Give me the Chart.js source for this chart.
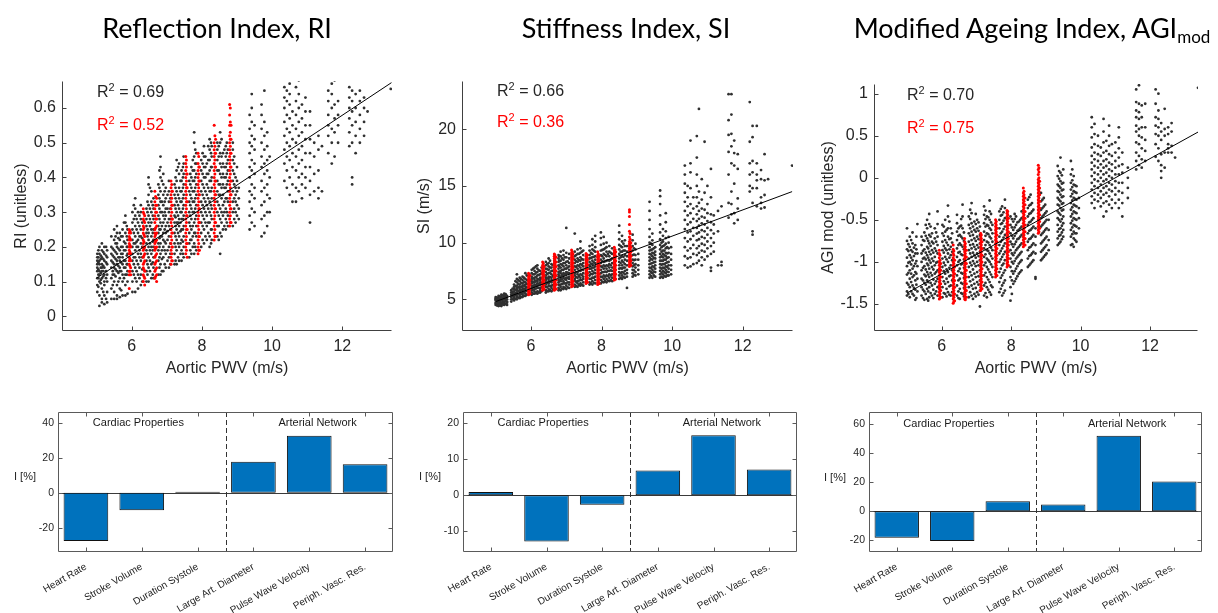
<!DOCTYPE html>
<html>
<head>
<meta charset="utf-8">
<title>Aortic PWV and pulse wave indices</title>
<script src="https://cdn.jsdelivr.net/npm/chart.js@4.4.1/dist/chart.umd.min.js"></script>
<style>
body{margin:0;background:#fff;font-family:"Liberation Sans",Arial,sans-serif;color:#262626}
#wrap{position:relative;width:1218px;height:613px;overflow:hidden}
#wrap canvas{position:absolute;left:0;top:0}
.ttl{position:absolute;top:13px;font-family:Lato,"Open Sans",sans-serif;font-size:27px;line-height:30px;color:#000;white-space:nowrap;transform:translateX(-50%)}
.ttl sub{font-size:17px;vertical-align:-5px;line-height:0}
.r2{position:absolute;font-size:16px;line-height:16px;white-space:nowrap;color:#262626}
.r2 sup{font-size:11px;vertical-align:6px;line-height:0}
.r2.red{color:#ff0000}
.ylab{position:absolute;font-size:11px;line-height:13px;color:#262626}
</style>
</head>
<body>
<div id="wrap">
<canvas id="sRI" width="1218" height="613"></canvas>
<canvas id="sSI" width="1218" height="613"></canvas>
<canvas id="sAGI" width="1218" height="613"></canvas>
<canvas id="bRI" width="1218" height="613"></canvas>
<canvas id="bSI" width="1218" height="613"></canvas>
<canvas id="bAGI" width="1218" height="613"></canvas>

<div class="ttl" style="left:217px">Reflection Index, RI</div>
<div class="ttl" style="left:626px">Stiffness Index, SI</div>
<div class="ttl" style="left:1032px">Modified Ageing Index, AGI<sub>mod</sub></div>

<div class="r2" style="left:97px;top:84px">R<sup>2</sup> = 0.69</div>
<div class="r2 red" style="left:97px;top:117px">R<sup>2</sup> = 0.52</div>
<div class="r2" style="left:497px;top:83px">R<sup>2</sup> = 0.66</div>
<div class="r2 red" style="left:497px;top:114px">R<sup>2</sup> = 0.36</div>
<div class="r2" style="left:907px;top:87px">R<sup>2</sup> = 0.70</div>
<div class="r2 red" style="left:907px;top:120px">R<sup>2</sup> = 0.75</div>

<div class="ylab" style="left:14px;top:470px">I [%]</div>
<div class="ylab" style="left:419px;top:470px">I [%]</div>
<div class="ylab" style="left:824px;top:471px">I [%]</div>
</div>

<script>
// ---- data -------------------------------------------------------------
// scatter columns: [pwv, index values measured at that pwv...]
const pwvTicks = [6, 8, 10, 12];

const riTicks = [0, 0.1, 0.2, 0.3, 0.4, 0.5, 0.6];
const riFitX = [5.0, 13.4];
const riFitY = [0.11, 0.673];
const riBlack = [
  [5.02,.07,.09,.11,.13,.14,.15,.16,.17,.18],
  [5.05,.12,.135,.155,.17,.19,.11,.085],
  [5.08,.03,.06,.1,.12,.13,.15,.16,.18,.2],
  [5.12,.14,.165,.175,.105,.125,.095],
  [5.15,.04,.05,.08,.11,.13,.14,.15,.17,.19,.21],
  [5.19,.13,.145,.165,.185,.115,.07],
  [5.22,.035,.06,.09,.1,.12,.14,.16,.18,.2],
  [5.27,.11,.13,.155,.175,.2,.05],
  [5.3,.04,.07,.1,.12,.15,.17,.19],
  [5.42,.05,.08,.11,.14,.16,.18,.2,.23],
  [5.46,.12,.155,.175,.195,.13,.09],
  [5.5,.05,.07,.1,.12,.14,.15,.17,.19,.22,.25],
  [5.54,.135,.165,.185,.21,.23,.115],
  [5.58,.05,.06,.09,.13,.15,.16,.18,.2,.21,.24,.26],
  [5.62,.125,.145,.17,.195,.225,.1],
  [5.66,.055,.08,.11,.13,.14,.16,.17,.19,.22,.24],
  [5.7,.13,.155,.18,.2,.23,.075],
  [5.74,.06,.1,.12,.15,.17,.18,.2,.23,.25],
  [5.78,.11,.14,.16,.19,.215,.27],
  [5.82,.06,.09,.12,.14,.16,.19,.21,.24,.27,.29],
  [5.86,.12,.15,.175,.2,.23,.26],
  [5.88,.065,.1,.13,.15,.18,.2,.22,.25],
  [6.02,.07,.1,.13,.16,.18,.2,.22,.25,.27,.3],
  [6.06,.12,.15,.17,.21,.24,.28,.32],
  [6.1,.07,.11,.14,.17,.19,.21,.23,.26,.29,.31,.34],
  [6.14,.1,.13,.16,.2,.215,.25,.28],
  [6.18,.08,.12,.15,.18,.2,.22,.24,.27,.3],
  [6.22,.11,.14,.17,.19,.23,.26,.29],
  [6.26,.09,.12,.16,.18,.21,.23,.25,.28,.3,.32],
  [6.3,.1,.135,.17,.2,.225,.27],
  [6.42,.1,.13,.16,.19,.21,.24,.26,.28,.31],
  [6.45,.12,.15,.18,.23,.25,.3,.33],
  [6.48,.1,.14,.17,.2,.22,.24,.27,.29,.32,.35,.38,.4],
  [6.52,.13,.16,.19,.21,.26,.28,.31,.37],
  [6.56,.11,.15,.18,.2,.23,.25,.27,.3,.33,.36],
  [6.6,.12,.155,.19,.215,.24,.29,.32],
  [6.62,.11,.14,.17,.2,.22,.25,.28,.31,.34],
  [6.76,.12,.16,.19,.21,.24,.26,.29,.32,.35,.38],
  [6.79,.14,.17,.2,.225,.25,.28,.31,.34,.37,.42],
  [6.82,.12,.15,.18,.21,.23,.25,.27,.3,.33,.36,.4,.43,.46],
  [6.86,.13,.165,.19,.23,.26,.3,.33,.39],
  [6.9,.13,.17,.2,.22,.24,.27,.29,.32,.35,.38,.41],
  [6.94,.15,.19,.215,.25,.28,.3,.33,.36],
  [6.97,.14,.18,.21,.24,.26,.29,.31,.34,.37],
  [7.02,.16,.19,.22,.245,.27,.31,.35],
  [7.06,.14,.17,.2,.23,.26,.28,.3,.33,.36,.39],
  [7.1,.15,.18,.21,.25,.28,.31,.34],
  [7.22,.15,.18,.21,.24,.27,.29,.32,.35,.38],
  [7.25,.16,.2,.23,.26,.285,.31,.34,.37,.4],
  [7.28,.15,.19,.22,.25,.27,.3,.33,.36,.39,.42,.45],
  [7.32,.17,.21,.24,.27,.29,.32,.35,.43],
  [7.35,.16,.2,.23,.26,.28,.31,.34,.37,.41,.44],
  [7.39,.18,.21,.245,.27,.3,.33,.36,.39],
  [7.42,.16,.19,.22,.25,.28,.3,.33,.36,.39,.42],
  [7.46,.18,.215,.25,.28,.31,.34,.37,.4,.43],
  [7.48,.17,.2,.23,.26,.29,.32,.35,.38,.41,.44,.46],
  [7.64,.17,.21,.24,.27,.3,.33,.36,.39],
  [7.67,.19,.22,.26,.29,.32,.35,.38,.41],
  [7.7,.18,.22,.25,.28,.31,.34,.37,.4,.43],
  [7.74,.2,.23,.26,.3,.33,.36,.39,.42,.45],
  [7.78,.18,.21,.24,.27,.3,.33,.36,.39,.42,.46,.5,.53],
  [7.81,.2,.24,.28,.31,.34,.37,.4,.44,.48],
  [7.84,.19,.23,.26,.29,.32,.35,.38,.41,.44,.47],
  [7.98,.2,.24,.27,.3,.33,.36,.39,.42,.45],
  [8.02,.22,.26,.29,.32,.35,.38,.41,.44,.47],
  [8.06,.21,.25,.28,.31,.34,.37,.4,.43,.46,.49],
  [8.1,.23,.27,.3,.33,.36,.4,.43,.46],
  [8.14,.22,.26,.29,.32,.35,.38,.41,.44],
  [8.18,.24,.27,.31,.34,.37,.41,.45,.49],
  [8.22,.2,.23,.27,.3,.33,.36,.39,.42,.45,.48,.51],
  [8.26,.21,.25,.29,.32,.36,.39,.43,.47,.5],
  [8.28,.22,.25,.28,.31,.34,.37,.4,.43,.46,.49],
  [8.44,.23,.26,.3,.33,.36,.39,.42,.45,.48,.5],
  [8.48,.22,.26,.29,.32,.35,.38,.42,.46,.49],
  [8.52,.18,.24,.28,.31,.35,.38,.41,.44,.47,.5,.53],
  [8.56,.23,.27,.3,.34,.37,.4,.43,.46,.51],
  [8.6,.25,.29,.32,.35,.38,.41,.44,.47],
  [8.64,.26,.3,.33,.37,.4,.43,.48],
  [8.68,.25,.28,.31,.34,.37,.4,.43,.46,.49],
  [8.71,.27,.3,.34,.38,.41,.44,.47,.5],
  [8.74,.26,.29,.33,.36,.39,.42,.45,.48],
  [8.88,.26,.3,.33,.36,.39,.42,.45,.48,.5],
  [8.92,.28,.31,.34,.38,.41,.44,.46],
  [8.96,.27,.3,.33,.35,.37,.4],
  [9.0,.29,.32,.36,.39,.43],
  [9.05,.28,.31,.34,.37],
  [9.36,.25,.29,.33,.36,.4,.43,.47,.5,.54,.58],
  [9.42,.27,.31,.35,.38,.42,.45,.49,.52,.56,.6,.64],
  [9.5,.26,.3,.34,.37,.41,.44,.48,.51,.55],
  [9.7,.23,.28,.32,.36,.39,.43,.46,.5,.54,.58,.61],
  [9.78,.24,.29,.33,.37,.41,.44,.48,.52,.56,.65],
  [9.86,.26,.3,.35,.38,.42,.45,.49,.53],
  [9.93,.3,.34,.4,.46],
  [10.35,.39,.44,.48,.52,.56,.6,.63,.66],
  [10.42,.37,.42,.46,.5,.54,.58,.62,.65],
  [10.5,.35,.4,.45,.49,.53,.57,.61,.64,.67],
  [10.58,.33,.38,.43,.47,.51,.55,.59],
  [10.68,.33,.37,.42,.46,.5,.54,.58,.62,.66],
  [10.76,.36,.4,.44,.48,.52,.56,.6,.64,.68],
  [10.85,.34,.38,.41,.45,.49,.53,.57,.61],
  [10.95,.37,.4,.43,.47,.51,.55,.59,.63],
  [11.08,.27,.35,.39,.43,.47,.51,.55,.59],
  [11.2,.36,.41,.46,.5],
  [11.32,.34,.37,.42,.48,.52],
  [11.42,.36,.49],
  [11.6,.47,.52,.55,.58,.62,.65],
  [11.7,.44,.5,.54,.6,.64,.67],
  [11.78,.46,.53,.57,.61,.68],
  [11.88,.5,.55,.58,.62],
  [12.2,.49,.53,.57,.6,.63,.66],
  [12.28,.38,.4,.5,.55,.59,.62,.65],
  [12.38,.47,.52,.56,.6,.64],
  [12.5,.5,.54,.58,.62,.65],
  [12.62,.52,.56,.6,.63],
  [12.72,.59],
  [13.38,.655]
];
const riRed = [
  [5.93,.08,.12,.13,.15,.16,.17,.18,.19,.2,.21,.22,.23,.24,.25],
  [5.95,.13,.145,.165,.185,.205,.225,.245],
  [5.97,.12,.14,.16,.18,.2,.22,.24],
  [6.33,.1,.12,.14,.15,.17,.19,.2,.21,.22,.24,.25,.26,.28,.3,.31],
  [6.35,.115,.135,.155,.175,.195,.215,.235,.255,.275,.295],
  [6.37,.09,.11,.13,.16,.18,.2,.23,.27,.29],
  [6.66,.11,.13,.15,.17,.19,.2,.21,.22,.23,.24,.25,.27,.29,.31,.33,.36],
  [6.68,.115,.135,.155,.175,.195,.215,.235,.255,.28,.3,.32,.345],
  [6.71,.1,.12,.14,.16,.18,.2,.22,.24,.26,.28,.3,.32,.34],
  [7.12,.15,.17,.19,.21,.23,.25,.27,.29,.31,.33,.35,.37,.39],
  [7.14,.16,.18,.2,.22,.24,.26,.28,.3,.32,.34,.36,.38],
  [7.16,.16,.2,.24,.28,.32,.36],
  [7.54,.18,.2,.22,.24,.26,.28,.3,.32,.34,.36,.38,.4,.42,.44,.46],
  [7.56,.19,.21,.23,.25,.27,.29,.31,.33,.35,.37,.39,.41,.43,.45],
  [7.58,.17,.21,.25,.29,.33,.37,.41],
  [7.89,.18,.2,.22,.24,.26,.28,.3,.32,.34,.36,.38,.4,.42,.44,.47],
  [7.91,.19,.21,.23,.25,.27,.29,.31,.33,.35,.37,.39,.41,.43,.46],
  [7.93,.19,.23,.27,.31,.35,.39,.43],
  [8.35,.22,.24,.26,.28,.3,.32,.34,.36,.38,.4,.42,.44,.46,.48,.5,.55],
  [8.37,.23,.25,.27,.29,.31,.33,.35,.37,.39,.41,.43,.45,.47,.49,.52],
  [8.39,.23,.27,.31,.35,.39,.43,.47,.51],
  [8.79,.26,.28,.3,.32,.34,.36,.38,.4,.42,.44,.46,.48,.5,.52,.55,.58,.61],
  [8.81,.27,.29,.31,.33,.35,.37,.39,.41,.43,.45,.47,.49,.51,.53,.56,.6],
  [8.83,.27,.31,.35,.39,.43,.47,.51,.55]
];

const siTicks = [5, 10, 15, 20];
const siFitX = [5.0, 13.4];
const siFitY = [4.8, 14.5];
const siBlack = [
  [5.0,4.5,4.6,4.7,4.9,5.0,5.1,5.2],
  [5.04,4.55,4.75,4.95,5.15,4.45],
  [5.08,4.4,4.5,4.6,4.8,4.9,5.0,5.1,5.3],
  [5.12,4.65,4.85,5.05,5.25,4.45],
  [5.16,4.4,4.5,4.6,4.7,4.9,5.0,5.1,5.2,5.4],
  [5.2,4.55,4.75,4.95,5.15,5.35],
  [5.24,4.5,4.6,4.7,4.8,5.0,5.1,5.3,5.5],
  [5.28,4.6,4.85,5.05,5.25,5.45],
  [5.32,4.5,4.7,4.8,5.0,5.2,5.3],
  [5.44,4.8,5.0,5.2,5.4,5.6,5.8],
  [5.48,5.0,5.25,5.45,5.65,5.95],
  [5.52,4.9,5.1,5.3,5.5,5.7,5.9,6.1,6.3],
  [5.56,5.05,5.35,5.55,5.85,6.15,6.6],
  [5.6,5.0,5.2,5.4,5.6,5.8,6.0,6.2,6.5,6.8,7.2],
  [5.64,5.15,5.45,5.75,6.05,6.35,6.7],
  [5.68,5.1,5.3,5.5,5.7,5.9,6.1,6.3,6.6,6.9],
  [5.72,5.2,5.5,5.8,6.1,6.45,6.8],
  [5.76,5.2,5.4,5.6,5.8,6.0,6.2,6.4,6.7,7.0],
  [5.8,5.3,5.6,5.9,6.2,6.55,6.9],
  [5.84,5.3,5.5,5.7,5.9,6.1,6.3,6.5,6.8,7.3],
  [5.88,5.4,5.75,6.05,6.35,6.7,7.1],
  [6.02,5.4,5.6,5.8,6.0,6.2,6.4,6.6,6.8,7.0,7.3,7.6],
  [6.06,5.5,5.85,6.15,6.5,6.85,7.2,7.7],
  [6.1,5.5,5.7,5.9,6.1,6.3,6.5,6.7,6.9,7.2,7.5,7.8],
  [6.14,5.55,5.95,6.25,6.6,6.95,7.35,7.9],
  [6.18,5.5,5.7,6.0,6.2,6.4,6.6,6.8,7.1,7.4,7.7,8.0],
  [6.22,5.6,6.0,6.35,6.75,7.15,7.55],
  [6.26,5.6,5.8,6.0,6.3,6.5,6.7,6.9,7.2,7.5],
  [6.3,5.7,6.05,6.45,6.85,7.3,7.8],
  [6.42,5.6,5.8,6.1,6.3,6.5,6.7,6.9,7.1,7.4,7.7,8.0,8.3],
  [6.46,5.7,6.05,6.45,6.85,7.25,7.65,8.1],
  [6.5,5.7,5.9,6.2,6.4,6.6,6.8,7.0,7.3,7.6,7.9,8.2,8.6],
  [6.54,5.8,6.15,6.55,6.95,7.35,7.8,8.4],
  [6.58,5.7,6.0,6.2,6.5,6.7,6.9,7.2,7.5,7.8,8.1],
  [6.62,5.85,6.25,6.65,7.05,7.5,8.0],
  [6.78,5.8,6.0,6.3,6.5,6.7,7.0,7.2,7.4,7.7,8.0,8.3,8.6,8.9],
  [6.8,5.9,6.25,6.65,7.05,7.45,7.9,8.4,8.8],
  [6.84,5.8,6.1,6.3,6.6,6.8,7.0,7.3,7.5,7.8,8.1,8.4,8.8,9.2],
  [6.88,5.95,6.35,6.75,7.15,7.6,8.05,8.6],
  [6.92,5.9,6.1,6.4,6.6,6.9,7.1,7.3,7.6,7.9,8.2,8.5,8.9,9.3],
  [6.96,6.0,6.4,6.8,7.25,7.7,8.2,8.7],
  [7.0,5.9,6.2,6.4,6.7,6.9,7.2,7.4,7.7,8.0,8.3,8.7,9.1,11.3],
  [7.04,6.05,6.5,6.9,7.35,7.8,8.35],
  [7.08,6.0,6.3,6.5,6.8,7.0,7.3,7.6,7.9,8.2,8.6,9.0],
  [7.24,6.1,6.3,6.6,6.8,7.1,7.3,7.6,7.9,8.2,8.5,8.8,9.2,10.8],
  [7.28,6.15,6.55,6.95,7.4,7.85,8.35,8.9],
  [7.32,6.1,6.4,6.6,6.9,7.2,7.4,7.7,8.0,8.3,8.6,9.0,9.4],
  [7.36,6.25,6.65,7.05,7.5,7.95,8.45,9.0],
  [7.4,6.2,6.4,6.7,6.9,7.2,7.5,7.8,8.1,8.4,8.7,9.1,9.5,10.1],
  [7.44,6.3,6.7,7.15,7.6,8.05,8.55,9.2],
  [7.48,6.2,6.5,6.8,7.0,7.3,7.6,7.9,8.2,8.5,8.9,9.3],
  [7.66,6.3,6.5,6.8,7.1,7.4,7.7,8.0,8.3,8.6,8.9,9.3,9.7],
  [7.7,6.4,6.8,7.25,7.7,8.15,8.65,9.1],
  [7.74,6.3,6.6,6.9,7.2,7.5,7.8,8.1,8.4,8.7,9.0,9.4,9.8,10.3],
  [7.78,6.45,6.9,7.35,7.8,8.25,8.75,9.3],
  [7.82,6.4,6.7,7.0,7.3,7.6,7.9,8.2,8.5,8.8,9.2,9.6,10.1,10.6],
  [7.98,6.4,6.7,7.0,7.3,7.6,7.9,8.2,8.5,8.9,9.3,9.8,10.4,10.9],
  [8.02,6.55,6.95,7.4,7.85,8.35,8.8,9.35],
  [8.06,6.5,6.8,7.1,7.4,7.7,8.0,8.3,8.6,9.0,9.4,9.9,10.5],
  [8.1,6.6,7.0,7.45,7.9,8.35,8.9,9.5],
  [8.14,6.5,6.8,7.1,7.4,7.7,8.0,8.4,8.8,9.2,9.6,10.0],
  [8.18,6.65,7.05,7.5,7.95,8.45,9.0],
  [8.22,6.6,6.9,7.2,7.5,7.8,8.1,8.4,8.8,9.2,9.7],
  [8.26,6.7,7.1,7.55,8.0,8.5,9.1],
  [8.3,6.6,6.9,7.2,7.5,7.8,8.2,8.6,9.0,9.5],
  [8.5,6.8,7.1,7.4,7.7,8.0,8.3,8.6,9.0,9.4,9.8,10.3,10.9,11.5],
  [8.54,6.9,7.3,7.75,8.2,8.7,9.2,9.7],
  [8.58,6.8,7.1,7.4,7.7,8.0,8.4,8.8,9.2,9.6,10.1,10.6],
  [8.62,6.95,7.35,7.8,8.25,8.75,9.3,9.9],
  [8.66,6.9,7.2,7.5,7.8,8.1,8.5,8.9,9.3,9.7,10.2],
  [8.72,6.0,7.0,7.3,7.6,8.0,8.4,8.8,9.2,9.7],
  [8.88,7.0,7.3,7.6,7.9,8.2,8.5,8.9,9.3,9.7,10.2,10.7],
  [8.92,7.15,7.55,8.0,8.45,8.95,9.5],
  [8.96,7.1,7.4,7.8,8.1,8.5,8.9,9.4,9.9],
  [9.04,7.2,7.6,8.0,8.5,9.0],
  [9.36,6.9,7.2,7.5,7.8,8.1,8.4,8.7,9.0,9.3,9.6,10.0,10.5,11.2,12.0,12.8,13.6],
  [9.4,7.05,7.4,7.75,8.15,8.55,8.95,9.35,9.9],
  [9.44,6.9,7.3,7.6,7.9,8.2,8.5,8.8,9.1,9.4,9.8,10.2,10.8],
  [9.48,7.1,7.45,7.85,8.25,8.65,9.05,9.5],
  [9.52,7.0,7.4,7.7,8.0,8.3,8.6,8.9,9.2,9.6],
  [9.66,6.9,7.2,7.5,7.8,8.1,8.4,8.7,9.0,9.4,9.8,10.3,10.9,11.6,12.4,13.4,14.1,14.6],
  [9.7,7.0,7.35,7.7,8.05,8.4,8.8,9.2,9.6,10.0],
  [9.74,6.9,7.2,7.5,7.8,8.1,8.4,8.7,9.0,9.3,9.7,10.1,10.6,11.2],
  [9.78,7.05,7.4,7.75,8.1,8.5,8.9,9.3,9.75],
  [9.82,7.0,7.3,7.6,7.9,8.2,8.5,8.8,9.1,9.5,9.9,10.4,11.0,11.8,12.6],
  [9.86,7.1,7.45,7.85,8.25,8.65,9.05,9.6],
  [9.9,7.1,7.4,7.7,8.0,8.3,8.7,9.1,9.5,10.0,10.5],
  [9.97,7.2,7.6,8.0,8.5,9.0,9.6],
  [10.36,8.0,8.8,9.6,10.4,11.2,12.0,12.8,13.6,14.4,15.2,16.0,16.8],
  [10.44,7.8,8.6,9.3,10.1,10.9,11.6,12.4,13.2,14.0,15.0],
  [10.52,7.9,8.7,9.5,10.3,11.0,11.8,12.6,13.4,14.8,16.2,17.0,19.0],
  [10.6,8.1,9.0,9.8,10.6,11.3,12.1,13.0,14.0],
  [10.7,8.2,8.9,9.5,10.2,10.8,11.3,11.9,12.5,13.2,14.0,15.0,16.0,17.5,19.4],
  [10.76,8.4,9.1,9.7,10.3,10.9,11.5,12.1,12.8,13.5,14.5,21.8],
  [10.84,8.0,8.7,9.3,9.9,10.5,11.1,11.7,12.3,13.0,13.8,15.6],
  [10.92,8.5,9.2,9.8,10.4,11.0,11.6,12.2,12.9,14.4,18.9],
  [11.0,8.8,9.5,10.1,10.7,11.3,11.9,12.6,13.4,15.0],
  [11.1,7.5,7.8,9.0,9.7,10.4,11.1,11.8,12.5,14.0,16.5],
  [11.18,9.2,10.0,10.8,11.6,12.4],
  [11.3,8.0,11.0,12.8],
  [11.4,8.0,8.3,13.2],
  [11.6,12.2,13.5,16.0,18.0,19.5,20.8,23.1],
  [11.68,12.5,13.4,14.5,17.0,18.5,19.6,21.3,23.1],
  [11.76,11.7,12.6,15.2,16.8,17.9,19.0],
  [11.86,12.0,13.0,13.9,16.5,17.8],
  [12.2,14.5,15.0,16.0,17.0,18.9,22.4],
  [12.28,10.7,11.0,13.5,14.8,16.2,17.2,19.3,20.3],
  [12.4,13.2,14.8,15.5,16.0,17.0,20.3],
  [12.52,13.0,13.5,14.0,15.6,16.4],
  [12.62,13.1,14.2,15.5,17.8],
  [12.72,15.6],
  [13.4,16.8]
];
const siRed = [
  [5.93,5.4,5.6,5.8,6.0,6.2,6.4,6.6,6.8,7.0,7.3],
  [5.95,5.5,5.7,5.9,6.1,6.3,6.5,6.7,6.9,7.15],
  [5.97,5.5,5.9,6.3,6.7,7.1],
  [6.33,5.8,6.0,6.2,6.4,6.6,6.8,7.0,7.2,7.4,7.6,7.8,8.0,8.3],
  [6.35,5.9,6.1,6.3,6.5,6.7,6.9,7.1,7.3,7.5,7.7,7.9,8.15],
  [6.37,5.9,6.3,6.7,7.1,7.5,7.9],
  [6.66,5.8,6.0,6.2,6.4,6.6,6.8,7.0,7.2,7.4,7.6,7.8,8.0,8.2,8.4,8.6,8.8,9.0],
  [6.68,5.9,6.1,6.3,6.5,6.7,6.9,7.1,7.3,7.5,7.7,7.9,8.1,8.3,8.5,8.7,8.9],
  [6.71,5.9,6.3,6.7,7.1,7.5,7.9,8.3,8.7],
  [7.15,6.1,6.3,6.5,6.7,6.9,7.1,7.3,7.5,7.7,7.9,8.1,8.3,8.5,8.7,8.9,9.1,9.35],
  [7.17,6.2,6.4,6.6,6.8,7.0,7.2,7.4,7.6,7.8,8.0,8.2,8.4,8.6,8.8,9.0,9.2],
  [7.19,6.2,6.6,7.0,7.4,7.8,8.2,8.6,9.0],
  [7.56,6.4,6.6,6.8,7.0,7.2,7.4,7.6,7.8,8.0,8.2,8.4,8.6,8.8,9.05],
  [7.58,6.5,6.7,6.9,7.1,7.3,7.5,7.7,7.9,8.1,8.3,8.5,8.7,8.9],
  [7.6,6.5,6.9,7.3,7.7,8.1,8.5,8.9],
  [7.89,6.3,6.5,6.7,6.9,7.1,7.3,7.5,7.7,7.9,8.1,8.3,8.5,8.7,8.9,9.2],
  [7.91,6.4,6.6,6.8,7.0,7.2,7.4,7.6,7.8,8.0,8.2,8.4,8.6,8.8,9.0],
  [7.93,6.4,6.8,7.2,7.6,8.0,8.4,8.8],
  [8.36,6.7,6.9,7.1,7.3,7.5,7.7,7.9,8.1,8.3,8.5,8.7,8.9,9.1,9.3,9.6],
  [8.38,6.8,7.0,7.2,7.4,7.6,7.8,8.0,8.2,8.4,8.6,8.8,9.0,9.2,9.4],
  [8.4,6.8,7.2,7.6,8.0,8.4,8.8,9.2],
  [8.79,7.9,8.1,8.3,8.5,8.7,8.9,9.1,9.3,9.5,9.7,9.9,10.1,10.5,11.0,11.6,12.3,12.7,12.9],
  [8.81,8.0,8.2,8.4,8.6,8.8,9.0,9.2,9.4,9.6,9.8,10.0,10.3,10.8],
  [8.83,8.0,8.4,8.8,9.2,9.6,10.0]
];

const agiTicks = [-1.5, -1, -0.5, 0, 0.5, 1];
const agiFitX = [5.0, 13.4];
const agiFitY = [-1.37, 0.548];
const agiBlack = [
  [5.0,-1.4,-1.35,-1.25,-1.15,-1.05,-0.95,-0.85,-0.75,-0.6],
  [5.04,-1.38,-1.27,-1.13,-1.01,-0.87,-0.79],
  [5.08,-1.42,-1.3,-1.2,-1.1,-1.0,-0.92,-0.82,-0.7],
  [5.12,-1.35,-1.24,-1.14,-1.03,-0.95,-0.86,-0.74],
  [5.16,-1.38,-1.28,-1.18,-1.08,-0.98,-0.88,-0.78,-0.65],
  [5.2,-1.4,-1.31,-1.16,-1.05,-0.93,-0.83],
  [5.24,-1.45,-1.33,-1.22,-1.12,-1.02,-0.9,-0.8],
  [5.27,-1.43,-1.27,-1.14,-0.99,-0.85,-0.7],
  [5.3,-1.35,-1.2,-1.05,-0.9,-0.55],
  [5.42,-1.4,-1.3,-1.2,-1.1,-1.0,-0.9,-0.8,-0.7],
  [5.46,-1.43,-1.33,-1.22,-1.07,-0.96,-0.87,-0.74],
  [5.5,-1.45,-1.35,-1.25,-1.15,-1.05,-0.95,-0.85,-0.75,-0.65],
  [5.54,-1.38,-1.27,-1.17,-1.09,-0.97,-0.89,-0.69,-0.56],
  [5.58,-1.44,-1.32,-1.22,-1.12,-1.02,-0.92,-0.82,-0.72,-0.6,-0.5],
  [5.61,-1.46,-1.35,-1.24,-1.15,-1.04,-0.95,-0.84,-0.75],
  [5.64,-1.42,-1.3,-1.18,-1.08,-0.98,-0.88,-0.78,-0.68,-0.55,-0.43],
  [5.68,-1.37,-1.25,-1.13,-1.01,-0.91,-0.81,-0.7,-0.58],
  [5.72,-1.4,-1.28,-1.16,-1.06,-0.96,-0.86,-0.76,-0.66],
  [5.76,-1.43,-1.33,-1.21,-1.09,-0.99,-0.89,-0.78],
  [5.8,-1.38,-1.26,-1.14,-1.04,-0.94,-0.84,-0.72,-0.6],
  [5.84,-1.35,-1.23,-1.12,-1.01,-0.87,-0.76,-0.65],
  [5.88,-1.4,-1.3,-1.2,-1.1,-1.0,-0.9,-0.8,-0.7,-0.55,-0.4],
  [6.02,-1.42,-1.3,-1.18,-1.06,-0.96,-0.86,-0.76,-0.66,-0.56],
  [6.06,-1.37,-1.23,-1.11,-1.01,-0.89,-0.81,-0.69,-0.58],
  [6.1,-1.38,-1.26,-1.14,-1.04,-0.94,-0.84,-0.74,-0.64,-0.5],
  [6.14,-1.41,-1.32,-1.2,-1.09,-0.97,-0.86,-0.77,-0.62],
  [6.18,-1.36,-1.24,-1.12,-1.0,-0.9,-0.8,-0.7,-0.6,-0.46,-0.33],
  [6.22,-1.39,-1.29,-1.17,-1.07,-0.95,-0.85,-0.73,-0.52],
  [6.26,-1.4,-1.28,-1.16,-1.04,-0.92,-0.82,-0.72,-0.6],
  [6.3,-1.36,-1.22,-1.1,-0.98,-0.88,-0.77,-0.66],
  [6.44,-1.4,-1.28,-1.16,-1.04,-0.94,-0.84,-0.74,-0.64,-0.54,-0.44],
  [6.48,-1.43,-1.35,-1.22,-1.11,-1.0,-0.89,-0.8,-0.69,-0.6],
  [6.52,-1.44,-1.32,-1.2,-1.08,-0.98,-0.88,-0.78,-0.68,-0.58],
  [6.56,-1.37,-1.25,-1.13,-1.03,-0.91,-0.8,-0.7,-0.57,-0.49],
  [6.6,-1.38,-1.26,-1.14,-1.02,-0.92,-0.82,-0.72,-0.6,-0.46,-0.32],
  [6.64,-1.41,-1.31,-1.19,-1.07,-0.97,-0.85,-0.75,-0.65],
  [6.78,-1.42,-1.3,-1.18,-1.06,-0.96,-0.86,-0.76,-0.66,-0.56,-0.46],
  [6.82,-1.36,-1.23,-1.12,-1.01,-0.9,-0.8,-0.69,-0.6,-0.49,-0.38],
  [6.86,-1.4,-1.28,-1.16,-1.04,-0.94,-0.84,-0.74,-0.64,-0.54,-0.42,-0.3],
  [6.9,-1.44,-1.32,-1.21,-1.09,-0.99,-0.89,-0.79,-0.68,-0.58],
  [6.94,-1.38,-1.26,-1.14,-1.02,-0.92,-0.82,-0.72,-0.62,-0.52],
  [6.98,-1.41,-1.31,-1.18,-1.05,-0.95,-0.85,-0.75,-0.64,-0.55,-0.43],
  [7.02,-1.36,-1.24,-1.12,-1.0,-0.9,-0.8,-0.7,-0.6,-0.5],
  [7.06,-1.39,-1.27,-1.17,-1.04,-0.93,-0.83,-0.73,-0.63,-0.53],
  [7.1,-1.53,-1.34,-1.22,-1.1,-0.98,-0.88,-0.78,-0.68,-0.58],
  [7.22,-1.4,-1.28,-1.16,-1.04,-0.94,-0.84,-0.74,-0.64,-0.54,-0.44,-0.34],
  [7.26,-1.37,-1.25,-1.13,-1.01,-0.91,-0.8,-0.69,-0.58,-0.49,-0.39],
  [7.3,-1.42,-1.3,-1.18,-1.06,-0.96,-0.86,-0.76,-0.66,-0.56,-0.46],
  [7.34,-1.33,-1.21,-1.09,-0.98,-0.87,-0.77,-0.67,-0.57,-0.47],
  [7.38,-1.36,-1.24,-1.12,-1.0,-0.9,-0.8,-0.7,-0.6,-0.5,-0.4,-0.27],
  [7.42,-1.39,-1.28,-1.15,-1.03,-0.93,-0.83,-0.72,-0.62,-0.53,-0.43],
  [7.46,-1.3,-1.18,-1.06,-0.96,-0.86,-0.76,-0.66,-0.56],
  [7.66,-1.36,-1.24,-1.12,-1.0,-0.9,-0.8,-0.7,-0.6,-0.5,-0.4],
  [7.7,-1.32,-1.19,-1.08,-0.97,-0.87,-0.76,-0.66,-0.55,-0.45,-0.37],
  [7.74,-1.4,-1.28,-1.16,-1.04,-0.94,-0.84,-0.74,-0.64,-0.54,-0.44,-0.34],
  [7.78,-1.37,-1.25,-1.13,-1.02,-0.91,-0.81,-0.71,-0.61,-0.51,-0.41],
  [7.82,-1.34,-1.22,-1.1,-0.98,-0.88,-0.78,-0.68,-0.58,-0.48,-0.36,-0.26],
  [7.98,-1.46,-1.3,-1.18,-1.06,-0.96,-0.86,-0.76,-0.66,-0.56,-0.46],
  [8.02,-1.38,-1.22,-1.11,-1.0,-0.9,-0.79,-0.69,-0.59,-0.49],
  [8.06,-1.26,-1.14,-1.02,-0.92,-0.82,-0.72,-0.62,-0.52],
  [8.1,-1.23,-1.11,-0.99,-0.89,-0.79,-0.69,-0.59,-0.49,-0.43],
  [8.14,-1.2,-1.08,-0.96,-0.86,-0.76,-0.66,-0.56,-0.46],
  [8.18,-1.17,-1.05,-0.94,-0.84,-0.73,-0.63,-0.53],
  [8.22,-1.14,-1.02,-0.92,-0.82,-0.72,-0.62,-0.52],
  [8.26,-1.12,-1.0,-0.9,-0.8,-0.7,-0.6,-0.5],
  [8.3,-1.1,-0.98,-0.88,-0.78,-0.68,-0.58,-0.48,-0.4],
  [8.48,-1.06,-0.96,-0.86,-0.76,-0.66,-0.56,-0.46,-0.36,-0.26],
  [8.52,-1.04,-0.93,-0.83,-0.73,-0.63,-0.53,-0.43,-0.33,-0.23],
  [8.56,-1.02,-0.92,-0.82,-0.72,-0.62,-0.52,-0.42,-0.32,-0.2],
  [8.6,-1.0,-0.9,-0.8,-0.7,-0.6,-0.5,-0.4,-0.3],
  [8.64,-0.98,-0.88,-0.78,-0.68,-0.58,-0.48,-0.38],
  [8.7,-1.2,-1.18,-0.9,-0.8,-0.7,-0.6],
  [8.86,-0.98,-0.88,-0.78,-0.68,-0.58,-0.48,-0.38,-0.28,-0.18],
  [8.9,-0.96,-0.86,-0.76,-0.66,-0.56,-0.46,-0.36,-0.26],
  [8.94,-0.94,-0.84,-0.74,-0.64,-0.54,-0.44,-0.34,-0.24],
  [8.98,-0.92,-0.82,-0.72,-0.62,-0.52,-0.42,-0.32],
  [9.02,-0.9,-0.8,-0.7,-0.6,-0.5,-0.4],
  [9.08,-0.86,-0.74,-0.62,-0.5],
  [9.34,-0.8,-0.72,-0.64,-0.56,-0.48,-0.4,-0.32,-0.24,-0.16,-0.08,0.02,0.14],
  [9.38,-0.78,-0.69,-0.61,-0.5,-0.42,-0.33,-0.26,-0.17,-0.1,-0.01,0.08],
  [9.42,-0.76,-0.68,-0.6,-0.52,-0.44,-0.36,-0.28,-0.2,-0.12,-0.04,0.06,0.24],
  [9.46,-0.73,-0.65,-0.57,-0.49,-0.39,-0.31,-0.23,-0.15,-0.07,0.03],
  [9.5,-0.7,-0.62,-0.54,-0.46,-0.38,-0.3,-0.22,-0.14,-0.06,0.1],
  [9.72,-0.8,-0.7,-0.62,-0.54,-0.46,-0.38,-0.3,-0.22,-0.14,-0.06,0.04,0.2],
  [9.76,-0.79,-0.67,-0.59,-0.51,-0.43,-0.35,-0.27,-0.19,-0.11,-0.03,0.1],
  [9.8,-0.82,-0.72,-0.64,-0.56,-0.48,-0.4,-0.32,-0.24,-0.16,-0.08,0.02],
  [9.84,-0.74,-0.66,-0.57,-0.49,-0.41,-0.33,-0.25,-0.17,-0.09],
  [9.88,-0.76,-0.66,-0.58,-0.5,-0.42,-0.34,-0.26,-0.18,-0.1],
  [9.95,-0.6,-0.48,-0.36,-0.24],
  [10.32,-0.3,-0.22,-0.14,-0.06,0.02,0.1,0.18,0.26,0.36,0.48,0.6,0.72],
  [10.4,-0.36,-0.26,-0.18,-0.1,-0.02,0.06,0.14,0.22,0.3,0.4,0.52,0.64],
  [10.5,-0.28,-0.2,-0.12,-0.04,0.04,0.12,0.2,0.28,0.38,0.5],
  [10.58,-0.34,-0.24,-0.16,-0.08,0.0,0.08,0.16,0.26,0.36],
  [10.66,-0.46,-0.3,-0.2,-0.12,-0.04,0.04,0.12,0.2,0.3,0.42,0.55,0.7],
  [10.74,-0.4,-0.28,-0.18,-0.1,-0.02,0.06,0.14,0.22,0.32,0.44],
  [10.82,-0.32,-0.22,-0.14,-0.06,0.02,0.1,0.18,0.28,0.38,0.5,0.62],
  [10.9,-0.36,-0.26,-0.16,-0.08,0.0,0.08,0.16,0.26,0.4],
  [11.0,-0.3,-0.2,-0.12,-0.04,0.04,0.12,0.2,0.3,0.42],
  [11.1,-0.36,-0.26,-0.16,-0.06,0.04,0.14,0.24,0.35,0.48,0.6],
  [11.2,-0.46,-0.3,-0.18,-0.06,0.06,0.16,0.3],
  [11.36,-0.24,-0.12,0.0,0.12],
  [11.6,0.1,0.2,0.3,0.42,0.55,0.62,0.72,0.8,0.9,1.05],
  [11.68,0.15,0.26,0.4,0.5,0.58,0.7,0.78,0.88,1.1],
  [11.76,0.12,0.22,0.35,0.48,0.6,0.72,0.86],
  [11.86,0.2,0.32,0.45,0.6,0.88],
  [12.16,0.25,0.4,0.52,0.62,0.72,0.88,1.05],
  [12.24,0.2,0.35,0.5,0.6,0.7,0.8,1.0],
  [12.32,0.0,0.08,0.15,0.28,0.45,0.55,0.65],
  [12.42,0.12,0.3,0.5,0.58,0.82],
  [12.52,0.3,0.35,0.4,0.52,0.6],
  [12.62,0.3,0.38,0.55,0.65],
  [12.72,0.24],
  [13.38,1.07]
];
const agiRed = [
  [5.93,-1.44,-1.4,-1.36,-1.32,-1.28,-1.24,-1.2,-1.16,-1.12,-1.08,-1.04,-1.0,-0.95,-0.9,-0.86],
  [5.95,-1.43,-1.38,-1.34,-1.3,-1.26,-1.22,-1.18,-1.14,-1.1,-1.06,-1.02,-0.98,-0.92],
  [5.97,-1.42,-1.34,-1.26,-1.18,-1.1,-1.02],
  [6.33,-1.49,-1.44,-1.4,-1.36,-1.32,-1.28,-1.24,-1.2,-1.16,-1.12,-1.08,-1.04,-1.0,-0.95,-0.9,-0.85,-0.8],
  [6.35,-1.47,-1.42,-1.38,-1.34,-1.3,-1.26,-1.22,-1.18,-1.14,-1.1,-1.06,-1.02,-0.97,-0.92,-0.87],
  [6.37,-1.46,-1.38,-1.3,-1.22,-1.14,-1.06,-0.98],
  [6.66,-1.44,-1.4,-1.36,-1.32,-1.28,-1.24,-1.2,-1.16,-1.12,-1.08,-1.04,-1.0,-0.96,-0.92,-0.88,-0.84,-0.8,-0.76,-0.72],
  [6.68,-1.45,-1.42,-1.38,-1.34,-1.3,-1.26,-1.22,-1.18,-1.14,-1.1,-1.06,-1.02,-0.98,-0.94,-0.9,-0.86,-0.82,-0.78],
  [6.71,-1.42,-1.34,-1.26,-1.18,-1.1,-1.02,-0.94,-0.86],
  [7.12,-1.34,-1.3,-1.26,-1.22,-1.18,-1.14,-1.1,-1.06,-1.02,-0.98,-0.94,-0.9,-0.86,-0.82,-0.78,-0.74,-0.7,-0.66],
  [7.14,-1.32,-1.28,-1.24,-1.2,-1.16,-1.12,-1.08,-1.04,-1.0,-0.96,-0.92,-0.88,-0.84,-0.8,-0.76,-0.72,-0.68],
  [7.16,-1.32,-1.24,-1.16,-1.08,-1.0,-0.92,-0.84,-0.76],
  [7.55,-1.18,-1.14,-1.1,-1.06,-1.02,-0.98,-0.94,-0.9,-0.86,-0.82,-0.78,-0.74,-0.7,-0.66,-0.62,-0.58,-0.54,-0.5],
  [7.57,-1.16,-1.12,-1.08,-1.04,-1.0,-0.96,-0.92,-0.88,-0.84,-0.8,-0.76,-0.72,-0.68,-0.64,-0.6,-0.56,-0.52],
  [7.59,-1.16,-1.08,-1.0,-0.92,-0.84,-0.76,-0.68,-0.6],
  [7.88,-1.06,-1.02,-0.98,-0.94,-0.9,-0.86,-0.82,-0.78,-0.74,-0.7,-0.66,-0.62,-0.58,-0.54,-0.5,-0.46,-0.42,-0.39],
  [7.9,-1.04,-1.0,-0.96,-0.92,-0.88,-0.84,-0.8,-0.76,-0.72,-0.68,-0.64,-0.6,-0.56,-0.52,-0.48,-0.44,-0.4],
  [7.92,-1.04,-0.96,-0.88,-0.8,-0.72,-0.64,-0.56,-0.48],
  [8.35,-0.82,-0.78,-0.74,-0.7,-0.66,-0.62,-0.58,-0.54,-0.5,-0.46,-0.42,-0.38,-0.34,-0.3,-0.26,-0.22,-0.18,-0.12],
  [8.37,-0.8,-0.76,-0.72,-0.68,-0.64,-0.6,-0.56,-0.52,-0.48,-0.44,-0.4,-0.36,-0.32,-0.28,-0.24,-0.2,-0.16],
  [8.4,-0.8,-0.72,-0.64,-0.56,-0.48,-0.4,-0.32,-0.24],
  [8.78,-0.66,-0.62,-0.58,-0.54,-0.5,-0.46,-0.42,-0.38,-0.34,-0.3,-0.26,-0.22,-0.18,-0.14,-0.1,-0.06,-0.02,0.04,0.1,0.15],
  [8.8,-0.64,-0.6,-0.56,-0.52,-0.48,-0.44,-0.4,-0.36,-0.32,-0.28,-0.24,-0.2,-0.16,-0.12,-0.08,-0.04,0.0,0.07,0.12],
  [8.82,-0.6,-0.52,-0.44,-0.36,-0.28,-0.2,-0.12,-0.04]
];

// relative influence of each parameter, I [%]
const factors = ['Heart Rate', 'Stroke Volume', 'Duration Systole', 'Large Art. Diameter', 'Pulse Wave Velocity', 'Periph. Vasc. Res.'];
const groupNames = ['Cardiac Properties', 'Arterial Network'];
const groupAt = [0.94, 4.15];
const infRI = [-27.6, -10.1, 0.6, 17.7, 32.6, 16.2];
const infSI = [0.9, -12.8, -2.6, 6.9, 16.7, 7.2];
const infAGI = [-18.3, -20.5, 6.8, 4.5, 51.8, 20.3];
const barTicksRI = [-20, 0, 20, 40];
const barTicksSI = [-10, 0, 10, 20];
const barTicksAGI = [-20, 0, 20, 40, 60];

// ---- drawing ----------------------------------------------------------
const W = 1218, H = 613;
const ink = '#262626';
const FONT = '"Liberation Sans", Arial, sans-serif';

// axes boxes in page pixels
const frames = {
  ri:  {l: 62, t: 81, r: 392, b: 331, yTitle: 21.7, xTitle: 368.3},
  si:  {l: 462, t: 81, r: 793, b: 331, yTitle: 425, xTitle: 368.3},
  agi: {l: 874, t: 84, r: 1198, b: 331, yTitle: 828.3, xTitle: 368.3},
  bri: {l: 58, t: 412, r: 393, b: 552},
  bsi: {l: 463, t: 412, r: 797, b: 552},
  bagi:{l: 869, t: 412, r: 1202, b: 552}
};

const toPoints = cols => cols.flatMap(c => c.slice(1).map(v => ({x: c[0], y: v})));

// matlab-ish axes: inward ticks, optional box, zero baseline, divider and group captions
const frame = {
  id: 'frame',
  beforeDatasetsDraw(chart, args, o) {
    const {ctx, chartArea: a, scales: {x, y}} = chart;
    ctx.save();
    ctx.lineWidth = 1;
    if (o.baseline) {
      const y0 = Math.round(y.getPixelForValue(0)) + 0.5;
      ctx.strokeStyle = '#3a3a3a';
      ctx.beginPath(); ctx.moveTo(a.left, y0); ctx.lineTo(a.right, y0); ctx.stroke();
    }
    if (o.split != null) {
      const xs = Math.round(x.getPixelForValue(o.split)) + 0.5;
      ctx.strokeStyle = '#333';
      ctx.setLineDash([5, 3]);
      ctx.beginPath(); ctx.moveTo(xs, a.top); ctx.lineTo(xs, a.bottom); ctx.stroke();
      ctx.setLineDash([]);
    }
    if (o.groups) {
      ctx.fillStyle = '#1a1a1a';
      ctx.font = '11px ' + FONT;
      ctx.textAlign = 'center';
      ctx.textBaseline = 'middle';
      o.groups.forEach((g, i) => ctx.fillText(g, x.getPixelForValue(o.groupAt[i]), y.getPixelForValue(o.groupY)));
    }
    ctx.restore();
  },
  afterDraw(chart, args, o) {
    const {ctx, chartArea: a, scales: {x, y}} = chart;
    const L = Math.round(a.left) + 0.5, R = Math.round(a.right) - 0.5;
    const T = Math.round(a.top) + 0.5, B = Math.round(a.bottom) - 0.5;
    const len = o.tick;
    ctx.save();
    ctx.strokeStyle = o.color;
    ctx.lineWidth = 1;
    ctx.beginPath();
    if (o.box) ctx.rect(L, T, R - L, B - T);
    else { ctx.moveTo(L, T); ctx.lineTo(L, B); ctx.lineTo(R, B); }
    x.ticks.forEach((t, i) => {
      const px = Math.round(x.getPixelForTick(i)) + 0.5;
      ctx.moveTo(px, B); ctx.lineTo(px, B - len);
      if (o.box) { ctx.moveTo(px, T); ctx.lineTo(px, T + len); }
    });
    y.ticks.forEach((t, i) => {
      const py = Math.round(y.getPixelForTick(i)) + 0.5;
      ctx.moveTo(L, py); ctx.lineTo(L + len, py);
      if (o.box) { ctx.moveTo(R, py); ctx.lineTo(R - len, py); }
    });
    ctx.stroke();
    ctx.restore();
  }
};

function scatterPanel(id, f, xLim, yLim, yTicks, yTitle, black, red, fitX, fitY) {
  const lh = 19.2;
  const left = f.yTitle - lh / 2, bottom = f.xTitle + lh / 2;
  const axisFont = {family: FONT, size: 16};
  new Chart(document.getElementById(id), {
    type: 'scatter',
    data: {
      datasets: [
        {data: fitX.map((v, i) => ({x: v, y: fitY[i]})), showLine: true, borderColor: '#000', borderWidth: 1, pointRadius: 0},
        {data: toPoints(red), pointBackgroundColor: '#ff0000', pointBorderWidth: 0, pointRadius: 1.5},
        {data: toPoints(black), pointBackgroundColor: '#303030', pointBorderWidth: 0, pointRadius: 1.4}
      ]
    },
    options: {
      responsive: false, animation: false, devicePixelRatio: 1, events: [],
      layout: {padding: {left: left, top: f.t, right: W - f.r, bottom: H - bottom}},
      plugins: {legend: {display: false}, tooltip: {enabled: false},
        frame: {color: '#404040', tick: 4, box: false}},
      scales: {
        x: {
          type: 'linear', min: xLim[0], max: xLim[1],
          afterBuildTicks: s => { s.ticks = pwvTicks.map(v => ({value: v})); },
          afterFit: s => { s.height = bottom - f.b; },
          grid: {display: false, drawTicks: false}, border: {display: false},
          ticks: {font: axisFont, color: ink, padding: 6, maxRotation: 0, callback: v => String(v)},
          title: {display: true, text: 'Aortic PWV (m/s)', font: axisFont, color: ink, padding: 0}
        },
        y: {
          type: 'linear', min: yLim[0], max: yLim[1],
          afterBuildTicks: s => { s.ticks = yTicks.map(v => ({value: v})); },
          afterFit: s => { s.width = f.l - left; },
          grid: {display: false, drawTicks: false}, border: {display: false},
          ticks: {font: axisFont, color: ink, padding: 6, callback: v => String(v)},
          title: {display: true, text: yTitle, font: axisFont, color: ink, padding: 0}
        }
      }
    },
    plugins: [frame]
  });
}

function barPanel(id, f, yLim, yTicks, values) {
  new Chart(document.getElementById(id), {
    type: 'bar',
    data: {
      labels: factors,
      datasets: [{data: values, backgroundColor: '#0072BD', borderColor: '#111', borderWidth: 1,
        borderSkipped: false, barPercentage: 0.8, categoryPercentage: 1}]
    },
    options: {
      responsive: false, animation: false, devicePixelRatio: 1, events: [],
      layout: {padding: {left: f.l - 40, top: f.t, right: W - f.r, bottom: 0}},
      plugins: {legend: {display: false}, tooltip: {enabled: false},
        frame: {color: '#5a5a5a', tick: 4, box: true, baseline: true, split: 2.5,
          groups: groupNames, groupAt: groupAt, groupY: yTicks[yTicks.length - 1]}},
      scales: {
        x: {
          type: 'category', offset: true,
          afterFit: s => { s.height = H - f.b; },
          grid: {display: false, drawTicks: false}, border: {display: false},
          ticks: {font: {family: FONT, size: 10}, color: ink, padding: 9, autoSkip: false, minRotation: 30, maxRotation: 30}
        },
        y: {
          type: 'linear', min: yLim[0], max: yLim[1],
          afterBuildTicks: s => { s.ticks = yTicks.map(v => ({value: v})); },
          afterFit: s => { s.width = 40; },
          grid: {display: false, drawTicks: false}, border: {display: false},
          ticks: {font: {family: FONT, size: 10.5}, color: ink, padding: 4, callback: v => String(v)}
        }
      }
    },
    plugins: [frame]
  });
}

scatterPanel('sRI', frames.ri, [4.014, 13.416], [-0.0423, 0.6778], riTicks, 'RI (unitless)', riBlack, riRed, riFitX, riFitY);
scatterPanel('sSI', frames.si, [4.044, 13.426], [2.203, 24.26], siTicks, 'SI (m/s)', siBlack, siRed, siFitX, siFitY);
scatterPanel('sAGI', frames.agi, [4.05, 13.38], [-1.821, 1.115], agiTicks, 'AGI mod (unitless)', agiBlack, agiRed, agiFitX, agiFitY);

barPanel('bRI', frames.bri, [-33.9, 46.1], barTicksRI, infRI);
barPanel('bSI', frames.bsi, [-15.75, 23.14], barTicksSI, infSI);
barPanel('bAGI', frames.bagi, [-28, 68], barTicksAGI, infAGI);
</script>
</body>
</html>
